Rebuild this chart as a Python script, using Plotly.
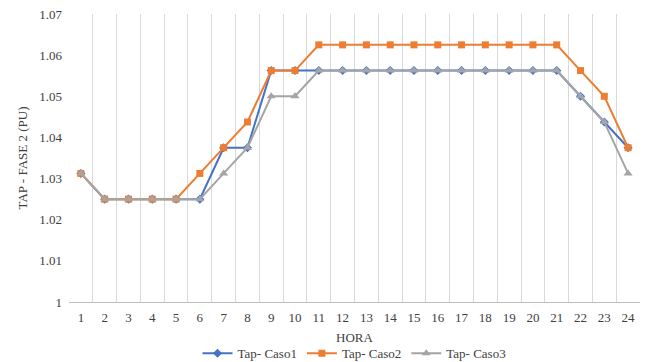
import plotly.graph_objects as go

horas = [str(h) for h in range(1, 25)]

tap_caso1 = [1.03125, 1.025, 1.025, 1.025, 1.025, 1.025, 1.0375, 1.0375, 1.05625, 1.05625,
             1.05625, 1.05625, 1.05625, 1.05625, 1.05625, 1.05625, 1.05625, 1.05625, 1.05625, 1.05625,
             1.05625, 1.05, 1.04375, 1.0375]
tap_caso2 = [1.03125, 1.025, 1.025, 1.025, 1.025, 1.03125, 1.0375, 1.04375, 1.05625, 1.05625,
             1.0625, 1.0625, 1.0625, 1.0625, 1.0625, 1.0625, 1.0625, 1.0625, 1.0625, 1.0625,
             1.0625, 1.05625, 1.05, 1.0375]
tap_caso3 = [1.03125, 1.025, 1.025, 1.025, 1.025, 1.025, 1.03125, 1.0375, 1.05, 1.05,
             1.05625, 1.05625, 1.05625, 1.05625, 1.05625, 1.05625, 1.05625, 1.05625, 1.05625, 1.05625,
             1.05625, 1.05, 1.04375, 1.03125]

font_family = "Liberation Serif, Times New Roman, serif"

fig = go.Figure()
fig.add_trace(go.Scatter(x=horas, y=tap_caso1, name="Tap- Caso1", mode="lines+markers",
                         line=dict(color="#4472C4", width=2),
                         marker=dict(symbol="diamond", size=7, color="#4472C4")))
fig.add_trace(go.Scatter(x=horas, y=tap_caso2, name="Tap- Caso2", mode="lines+markers",
                         line=dict(color="#ED7D31", width=2),
                         marker=dict(symbol="square", size=7, color="#ED7D31")))
fig.add_trace(go.Scatter(x=horas, y=tap_caso3, name="Tap- Caso3", mode="lines+markers",
                         line=dict(color="#A5A5A5", width=2),
                         marker=dict(symbol="triangle-up", size=8, color="#A5A5A5")))

fig.update_layout(
    width=657, height=362,
    margin=dict(l=69, r=17, t=14, b=60, autoexpand=False),
    paper_bgcolor="white", plot_bgcolor="white",
    font=dict(family=font_family, size=13, color="#404040"),
    legend=dict(orientation="h", x=0.5, xanchor="center", y=-0.178, yanchor="middle",
                font=dict(size=13), itemwidth=30, tracegroupgap=0),
    showlegend=True,
)
fig.update_xaxes(
    type="category", range=[-0.5, 23.5], tickson="boundaries", showgrid=True,
    gridcolor="#D9D9D9", gridwidth=1, automargin=False,
    showline=True, linecolor="#BFBFBF", linewidth=1, ticks="",
    title=dict(text="HORA", font=dict(size=13), standoff=9),
    tickfont=dict(size=13, color="#404040"), ticklabelstandoff=3,
)
fig.update_yaxes(
    range=[1, 1.07], dtick=0.01, tick0=1, showgrid=False, zeroline=False, showline=False,
    automargin=False,
    title=dict(text="TAP - FASE 2 (PU)", font=dict(size=13), standoff=8),
    tickfont=dict(size=13, color="#404040"), ticks="", ticklabelstandoff=6,
)

fig.write_html("out.html")
